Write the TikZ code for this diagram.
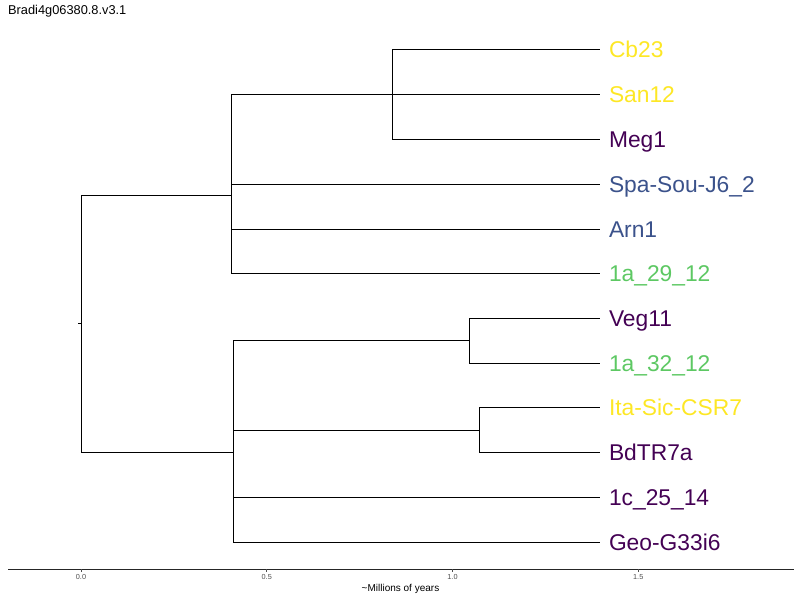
\documentclass[tikz,border=0pt]{standalone}
\usepackage{fontspec}
\setmainfont{Liberation Sans}
\definecolor{vyel}{HTML}{FDE725}
\definecolor{vpur}{HTML}{440154}
\definecolor{vblu}{HTML}{3B528B}
\definecolor{vgrn}{HTML}{5DC863}
\definecolor{tickgray}{HTML}{4D4D4D}
\tikzset{
  branch/.style={draw=black, line width=0.9pt},
  leaf/.style={anchor=west, inner sep=0pt, outer xsep=9pt, text height=16.3pt, text depth=0pt,
    font=\fontsize{22.8}{22.8}\selectfont},
  ticklab/.style={inner sep=0pt, text=tickgray, font=\fontsize{7.3}{7.3}\selectfont},
  axisline/.style={draw=black!85, line width=0.9pt},
}
\begin{document}
\begin{tikzpicture}[x=1pt,y=-1pt]
\useasboundingbox (0,0) rectangle (800,600);
% title
\node[anchor=base west, inner sep=0pt, font=\fontsize{12.8}{12.8}\selectfont] (title) at (8,14) {Bradi4g06380.8.v3.1};
% internal nodes
\coordinate (stub) at (78,323);
\coordinate (root) at (81,323);
\coordinate (U) at (231,195);
\coordinate (U1) at (392,94);
\coordinate (L) at (233,452);
\coordinate (L1) at (469,340);
\coordinate (L2) at (479,430);
% leaves
\node[leaf, text=vyel] (cb23) at (600,49) {Cb23};
\node[leaf, text=vyel] (san12) at (600,94) {San12};
\node[leaf, text=vpur] (meg1) at (600,139) {Meg1};
\node[leaf, text=vblu] (spa) at (600,184) {Spa-Sou-J6\_2};
\node[leaf, text=vblu] (arn1) at (600,229) {Arn1};
\node[leaf, text=vgrn] (a2912) at (600,273) {1a\_29\_12};
\node[leaf, text=vpur] (veg11) at (600,318) {Veg11};
\node[leaf, text=vgrn] (a3212) at (600,363) {1a\_32\_12};
\node[leaf, text=vyel] (ita) at (600,407) {Ita-Sic-CSR7};
\node[leaf, text=vpur] (bdtr) at (600,452) {BdTR7a};
\node[leaf, text=vpur] (c2514) at (600,497) {1c\_25\_14};
\node[leaf, text=vpur] (geo) at (600,542) {Geo-G33i6};
% branches
\draw[branch] (stub) -- (root);
\draw[branch] (root) |- (U);
\draw[branch] (root) |- (L);
\draw[branch] (U) |- (U1);
\draw[branch] (U1) |- (cb23.west);
\draw[branch] (U1) |- (san12.west);
\draw[branch] (U1) |- (meg1.west);
\draw[branch] (U) |- (spa.west);
\draw[branch] (U) |- (arn1.west);
\draw[branch] (U) |- (a2912.west);
\draw[branch] (L) |- (L1);
\draw[branch] (L1) |- (veg11.west);
\draw[branch] (L1) |- (a3212.west);
\draw[branch] (L) |- (L2);
\draw[branch] (L2) |- (ita.west);
\draw[branch] (L2) |- (bdtr.west);
\draw[branch] (L) |- (c2514.west);
\draw[branch] (L) |- (geo.west);
% axis
\coordinate (ax0) at (8,569);
\coordinate (ax1) at (794,569);
\draw[axisline] (ax0) -- (ax1);
\foreach \v/\t [count=\i] in {0/0.0, 1/0.5, 2/1.0, 3/1.5} {
  \coordinate (tk\i) at ({81+185.75*\v},569);
  \coordinate (tke\i) at ({81+185.75*\v},571.5);
  \draw[draw=tickgray, line width=0.6pt] (tk\i) -- (tke\i);
  \node[ticklab] (tl\i) at ({81+185.75*\v},577) {\t};
}
\node[inner sep=0pt, font=\fontsize{10}{10}\selectfont] (xlab) at (400.5,589) {\textasciitilde Millions of years};
\end{tikzpicture}
\end{document}
